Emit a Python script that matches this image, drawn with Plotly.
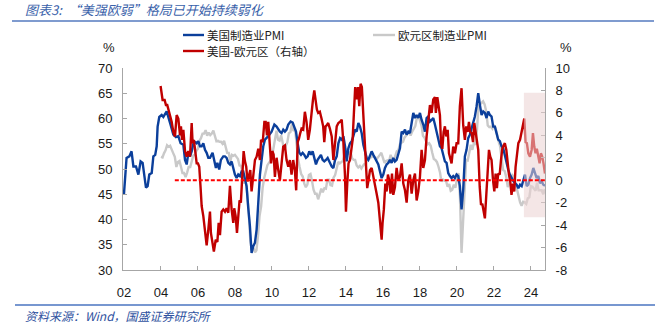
import pandas as pd
import plotly.graph_objects as go

# ---------------- data ----------------
# US manufacturing PMI: (decimal year, value)
us_pmi = [
    (2002.00, 45.0), (2002.14, 52.2), (2002.29, 52.5), (2002.41, 53.5), (2002.51, 50.5), (2002.65, 50.5),
    (2002.78, 48.9), (2002.90, 51.5), (2003.01, 51.2), (2003.08, 48.9), (2003.19, 46.3), (2003.28, 46.6),
    (2003.37, 48.9), (2003.50, 49.2), (2003.59, 52.5), (2003.69, 52.8), (2003.77, 54.5), (2003.82, 58.4),
    (2003.91, 60.3), (2004.04, 60.7), (2004.13, 60.3), (2004.31, 61.4), (2004.40, 60.4), (2004.52, 58.8),
    (2004.67, 56.8), (2004.81, 56.3), (2004.94, 56.5), (2005.06, 55.1), (2005.21, 54.8), (2005.30, 51.8),
    (2005.39, 50.9), (2005.48, 53.2), (2005.57, 52.5), (2005.66, 53.5), (2005.78, 55.5), (2005.93, 55.1),
    (2006.02, 55.5), (2006.11, 54.5), (2006.20, 54.5), (2006.29, 55.1), (2006.38, 53.8), (2006.47, 53.2),
    (2006.56, 52.2), (2006.65, 52.2), (2006.79, 53.2), (2006.88, 51.5), (2006.97, 50.2), (2007.05, 51.2),
    (2007.15, 49.9), (2007.24, 51.8), (2007.37, 52.5), (2007.46, 52.5), (2007.55, 52.2), (2007.64, 51.2),
    (2007.73, 50.9), (2007.82, 51.5), (2007.91, 50.2), (2008.00, 48.9), (2008.09, 48.2), (2008.18, 48.9),
    (2008.27, 48.6), (2008.36, 49.5), (2008.45, 49.5), (2008.54, 48.2), (2008.63, 46.6), (2008.72, 42.3),
    (2008.81, 38.7), (2008.90, 33.4), (2008.99, 34.7), (2009.08, 35.4), (2009.17, 38.0), (2009.26, 43.3),
    (2009.35, 48.9), (2009.44, 51.8), (2009.53, 54.5), (2009.62, 55.8), (2009.71, 56.1), (2009.80, 56.5),
    (2009.98, 57.4), (2010.13, 58.8), (2010.25, 58.4), (2010.34, 57.8), (2010.43, 57.4), (2010.52, 57.1),
    (2010.61, 57.8), (2010.70, 57.4), (2010.79, 57.8), (2010.88, 58.8), (2011.01, 59.4), (2011.12, 59.2),
    (2011.21, 58.4), (2011.30, 57.4), (2011.39, 55.1), (2011.48, 53.2), (2011.57, 52.8), (2011.66, 53.2),
    (2011.75, 52.8), (2011.84, 52.2), (2011.93, 52.5), (2012.02, 53.5), (2012.11, 52.8), (2012.20, 53.5),
    (2012.29, 52.2), (2012.38, 50.9), (2012.47, 51.8), (2012.56, 52.2), (2012.65, 52.8), (2012.74, 51.8),
    (2012.83, 51.5), (2012.92, 51.8), (2013.01, 52.2), (2013.10, 51.5), (2013.23, 50.5), (2013.32, 50.2),
    (2013.41, 51.8), (2013.50, 52.5), (2013.59, 55.1), (2013.68, 56.1), (2013.77, 55.8), (2013.86, 56.5),
    (2013.95, 54.5), (2014.04, 51.5), (2014.13, 54.1), (2014.22, 55.1), (2014.31, 55.5), (2014.40, 56.5),
    (2014.49, 57.8), (2014.58, 57.4), (2014.67, 59.1), (2014.76, 58.4), (2014.85, 57.1), (2014.94, 54.8),
    (2015.03, 53.2), (2015.12, 52.2), (2015.21, 51.8), (2015.30, 52.8), (2015.39, 53.5), (2015.48, 52.8),
    (2015.57, 52.2), (2015.66, 51.5), (2015.75, 50.9), (2015.84, 49.5), (2015.93, 48.2), (2016.02, 48.9),
    (2016.11, 50.2), (2016.20, 50.9), (2016.29, 51.2), (2016.38, 51.8), (2016.47, 51.2), (2016.56, 52.2),
    (2016.65, 51.5), (2016.74, 51.8), (2016.83, 52.8), (2016.92, 54.1), (2017.01, 57.4), (2017.10, 57.1),
    (2017.19, 57.8), (2017.28, 56.8), (2017.37, 57.4), (2017.46, 57.1), (2017.55, 59.1), (2017.64, 61.1),
    (2017.73, 60.1), (2017.82, 60.7), (2017.91, 60.1), (2018.00, 61.1), (2018.09, 59.7), (2018.18, 58.8),
    (2018.27, 57.4), (2018.36, 60.1), (2018.45, 60.4), (2018.54, 59.4), (2018.63, 59.7), (2018.72, 60.1),
    (2018.81, 58.8), (2018.90, 57.4), (2018.99, 56.5), (2019.08, 54.5), (2019.17, 54.1), (2019.26, 52.5),
    (2019.35, 51.5), (2019.44, 51.2), (2019.53, 49.2), (2019.62, 48.6), (2019.71, 48.2), (2019.80, 48.6),
    (2019.89, 48.2), (2019.98, 48.9), (2020.07, 48.6), (2020.16, 46.6), (2020.25, 42.0), (2020.34, 45.9),
    (2020.43, 52.5), (2020.52, 53.8), (2020.61, 56.1), (2020.70, 56.8), (2020.79, 58.1), (2020.88, 59.7),
    (2020.97, 60.4), (2021.06, 62.4), (2021.15, 65.0), (2021.24, 62.7), (2021.33, 60.7), (2021.42, 61.4),
    (2021.51, 61.1), (2021.60, 60.1), (2021.69, 61.4), (2021.78, 60.7), (2021.87, 60.4), (2021.96, 58.4),
    (2022.05, 58.4), (2022.14, 57.1), (2022.23, 55.8), (2022.32, 55.5), (2022.41, 54.5), (2022.50, 54.1),
    (2022.59, 52.5), (2022.68, 51.5), (2022.77, 49.9), (2022.86, 48.9), (2022.95, 48.2), (2023.05, 47.6),
    (2023.14, 47.2), (2023.23, 46.9), (2023.32, 46.2), (2023.41, 46.9), (2023.50, 46.6), (2023.59, 47.6),
    (2023.68, 48.9), (2023.77, 46.6), (2023.86, 46.9), (2023.95, 48.2), (2024.04, 48.9), (2024.13, 50.2),
    (2024.22, 49.2), (2024.31, 48.2), (2024.40, 48.6), (2024.49, 47.2), (2024.58, 47.6), (2024.67, 46.9),
    (2024.76, 46.7),
]

# Euro area manufacturing PMI, monthly from Jan 2004
eu_start = "2004-01-01"
eu_pmi = [
    52.4, 52.3, 53.1, 53.7, 54.7, 54.4, 54.6, 54.0, 53.1, 52.4, 50.4, 51.4,
    51.6, 50.4, 49.2, 49.2, 48.4, 49.3, 50.4, 50.4, 51.7, 52.7, 52.8, 53.6,
    54.0, 55.6, 56.1, 57.0, 57.0, 57.7, 56.6, 57.2, 56.7, 57.0, 57.6, 56.5,
    55.5, 55.6, 55.4, 55.4, 55.0, 55.6, 54.3, 53.2, 53.2, 51.5, 52.8, 52.6,
    52.8, 52.3, 52.0, 50.7, 50.6, 49.2, 47.4, 47.6, 45.0, 41.1, 35.6, 33.9,
    34.4, 33.5, 33.9, 36.8, 40.7, 42.6, 46.3, 48.2, 49.3, 50.7, 51.2, 51.6,
    52.4, 54.2, 56.6, 57.6, 55.8, 55.6, 56.7, 55.1, 53.7, 54.6, 55.3, 57.1,
    57.3, 59.0, 57.5, 58.0, 54.6, 52.0, 50.4, 49.0, 48.5, 47.1, 46.4, 46.9,
    48.8, 49.0, 47.7, 45.9, 45.1, 45.1, 44.0, 45.1, 46.1, 45.4, 46.2, 46.1,
    47.9, 47.9, 46.8, 46.7, 48.3, 48.8, 50.3, 51.4, 51.1, 51.3, 51.6, 52.7,
    54.0, 53.2, 53.0, 53.4, 52.2, 51.8, 51.8, 50.7, 50.3, 50.6, 50.1, 50.6,
    51.0, 51.0, 52.2, 52.0, 52.2, 52.5, 52.4, 52.3, 52.0, 52.3, 52.8, 53.2,
    52.3, 51.2, 51.6, 51.7, 51.5, 52.8, 52.0, 51.7, 52.6, 53.5, 53.7, 54.9,
    55.2, 55.4, 56.2, 56.7, 57.0, 57.4, 56.6, 57.4, 58.1, 58.5, 60.1, 60.6,
    59.6, 58.6, 56.6, 56.2, 55.5, 54.9, 55.1, 54.6, 53.2, 52.0, 51.8, 51.4,
    50.5, 49.3, 47.5, 47.9, 47.7, 47.6, 46.5, 47.0, 45.7, 45.9, 46.9, 46.3,
    47.9, 49.2, 44.5, 33.4, 39.4, 47.4, 51.8, 51.7, 53.7, 54.8, 53.8, 55.2,
    54.8, 57.9, 62.5, 62.9, 63.1, 63.4, 62.8, 61.4, 58.6, 58.3, 58.4, 58.0,
    58.7, 58.2, 56.5, 55.5, 54.6, 52.1, 49.8, 49.6, 48.4, 46.4, 47.1, 47.8,
    48.8, 48.5, 47.3, 45.8, 44.8, 43.4, 42.7, 43.5, 43.4, 43.1, 44.2, 44.4,
    46.6, 46.5, 46.1, 45.7, 47.3, 45.8, 45.8, 45.8, 45.0, 46.0,
]

# US minus euro area (right axis): (decimal year, value)
us_eu_spread = [
    (2003.98, 8.4), (2004.09, 7.15), (2004.20, 7.15), (2004.27, 6.7), (2004.34, 6.7), (2004.45, 6.0),
    (2004.58, 5.2), (2004.67, 4.3), (2004.76, 3.9), (2004.85, 5.8), (2004.94, 5.5), (2005.03, 4.0),
    (2005.08, 4.8), (2005.14, 3.6), (2005.21, 4.5), (2005.30, 2.6), (2005.39, 2.1), (2005.48, 2.6),
    (2005.57, 2.1), (2005.66, 5.1), (2005.71, 3.3), (2005.78, 3.6), (2005.86, 2.1), (2005.93, 1.5),
    (2006.00, 1.5), (2006.07, 1.2), (2006.14, -0.6), (2006.20, -2.3), (2006.29, -3.2), (2006.38, -4.7),
    (2006.47, -5.8), (2006.56, -4.4), (2006.65, -2.8), (2006.70, -4.7), (2006.79, -5.9), (2006.86, -6.35),
    (2006.96, -5.3), (2007.05, -5.5), (2007.12, -3.8), (2007.19, -4.9), (2007.28, -2.8), (2007.37, -2.6),
    (2007.46, -2.8), (2007.55, -2.5), (2007.64, -2.9), (2007.73, -0.5), (2007.82, -2.6), (2007.91, -3.8),
    (2007.96, -2.5), (2008.04, -3.2), (2008.11, -4.7), (2008.18, -3.5), (2008.25, -1.8), (2008.32, -2.0),
    (2008.40, 0.6), (2008.47, 2.6), (2008.54, 1.7), (2008.61, 1.2), (2008.68, -0.1), (2008.76, 0.5),
    (2008.83, 0.9), (2008.90, -1.0), (2008.99, 0.6), (2009.08, 1.8), (2009.17, 2.1), (2009.26, 2.8),
    (2009.35, 1.8), (2009.41, 3.6), (2009.50, 3.4), (2009.59, 5.2), (2009.66, 5.2), (2009.73, 4.0),
    (2009.80, 5.2), (2009.87, 3.3), (2009.95, 1.5), (2010.02, 2.6), (2010.09, 2.3), (2010.16, 0.3),
    (2010.25, 2.0), (2010.34, 0.9), (2010.43, 0.0), (2010.52, 1.5), (2010.61, 3.0), (2010.70, 3.1),
    (2010.79, 1.8), (2010.88, 1.2), (2010.97, 1.8), (2011.06, 0.5), (2011.15, 1.8), (2011.24, 0.9),
    (2011.31, -0.9), (2011.39, 3.4), (2011.46, 3.7), (2011.53, 4.2), (2011.60, 4.6), (2011.69, 4.5),
    (2011.78, 6.1), (2011.87, 5.2), (2011.96, 3.6), (2012.05, 4.5), (2012.14, 6.3), (2012.22, 7.2),
    (2012.29, 8.0), (2012.36, 6.9), (2012.43, 6.3), (2012.50, 6.0), (2012.59, 6.1), (2012.68, 5.5),
    (2012.77, 4.8), (2012.83, 3.4), (2012.90, 4.8), (2012.97, 4.9), (2013.04, 5.1), (2013.13, 4.6),
    (2013.23, 3.9), (2013.32, 1.8), (2013.41, 3.3), (2013.50, 4.8), (2013.59, 5.1), (2013.68, 5.2),
    (2013.77, 5.4), (2013.86, 3.4), (2013.95, 0.3), (2014.00, -2.8), (2014.07, -0.3), (2014.14, 1.5),
    (2014.22, 1.8), (2014.29, 3.0), (2014.36, 3.6), (2014.43, 6.0), (2014.50, 8.3), (2014.58, 7.2),
    (2014.65, 8.3), (2014.72, 6.6), (2014.79, 8.6), (2014.86, 8.3), (2014.94, 6.1), (2015.01, 3.6),
    (2015.08, 1.2), (2015.15, -0.7), (2015.22, 0.0), (2015.30, 0.9), (2015.39, 1.1), (2015.48, 0.2),
    (2015.57, -0.6), (2015.66, -1.2), (2015.75, -2.0), (2015.84, -4.1), (2015.93, -5.3), (2015.98, -3.8),
    (2016.05, -2.6), (2016.13, -0.3), (2016.20, -1.0), (2016.27, 0.5), (2016.34, 0.0), (2016.41, -1.2),
    (2016.49, 0.6), (2016.56, -1.3), (2016.65, -0.6), (2016.74, 1.1), (2016.83, 0.0), (2016.92, 0.3),
    (2017.01, 1.5), (2017.10, -0.3), (2017.19, -0.9), (2017.28, -2.0), (2017.37, 0.0), (2017.46, 0.5),
    (2017.55, -1.2), (2017.64, 0.0), (2017.73, 0.6), (2017.82, -1.8), (2017.91, -1.0), (2018.00, 0.3),
    (2018.09, 2.7), (2018.18, 1.1), (2018.27, 1.8), (2018.36, 3.9), (2018.45, 5.4), (2018.54, 6.7),
    (2018.63, 6.0), (2018.72, 7.2), (2018.81, 7.4), (2018.86, 6.0), (2018.94, 7.4), (2019.01, 6.3),
    (2019.08, 5.8), (2019.14, 3.3), (2019.21, 2.8), (2019.28, 4.3), (2019.35, 4.8), (2019.42, 3.9),
    (2019.50, 4.5), (2019.57, 2.4), (2019.64, 1.8), (2019.71, 1.5), (2019.80, 3.0), (2019.89, 2.4),
    (2019.98, 3.3), (2020.07, 3.3), (2020.16, 6.6), (2020.25, 8.2), (2020.34, 4.9), (2020.43, 3.6),
    (2020.50, 4.8), (2020.58, 4.3), (2020.65, 5.2), (2020.72, 4.3), (2020.79, 4.2), (2020.87, 3.4),
    (2020.94, 5.1), (2021.01, 4.3), (2021.08, 3.4), (2021.15, 2.7), (2021.23, -0.6), (2021.30, -2.2),
    (2021.37, -2.1), (2021.44, -2.8), (2021.51, -3.4), (2021.59, -1.2), (2021.66, 1.5), (2021.73, 2.7),
    (2021.80, 2.1), (2021.87, 1.8), (2021.95, 0.0), (2022.02, -1.0), (2022.09, 0.6), (2022.16, -0.7),
    (2022.23, 0.6), (2022.31, 0.5), (2022.38, 1.8), (2022.45, 2.8), (2022.52, 3.1), (2022.59, 3.3),
    (2022.67, 2.7), (2022.74, 1.5), (2022.81, 0.5), (2022.88, -0.1), (2022.95, -1.3), (2023.03, -0.3),
    (2023.10, -1.0), (2023.17, 1.2), (2023.24, 2.3), (2023.32, 3.3), (2023.41, 3.6), (2023.50, 4.3),
    (2023.59, 4.8), (2023.64, 5.5), (2023.71, 3.4), (2023.78, 3.3), (2023.86, 2.4), (2023.95, 2.1),
    (2024.04, 2.7), (2024.11, 4.2), (2024.18, 3.0), (2024.25, 2.4), (2024.32, 2.8), (2024.40, 2.1),
    (2024.47, 1.5), (2024.54, 2.4), (2024.61, 2.1), (2024.68, 1.5), (2024.76, 0.6),
]

zero_line_span = ("2004-10-01", "2024-10-05")      # dashed zero reference on right axis
highlight_span = ("2023-08-15", "2024-10-05")      # shaded recent period
highlight_range = (-3.3, 7.8)                      # right-axis extent of shading

left_ticks = [30, 35, 40, 45, 50, 55, 60, 65, 70]
right_ticks = [-8, -6, -4, -2, 0, 2, 4, 6, 8, 10]
right_tick_text = [str(v) for v in right_ticks]

names = ["美国制造业PMI", "欧元区制造业PMI", "美国-欧元区（右轴）"]
title_text = "图表3:  “美强欧弱”格局已开始持续弱化"
source_text = "资料来源：Wind，国盛证券研究所"


# ---------------- helpers ----------------
def to_date(y):
    yr = int(y)
    return pd.Timestamp(year=yr, month=1, day=1) + pd.Timedelta(days=(y - yr) * 365.25)


us_x = [to_date(t) for t, _ in us_pmi]
us_y = [v for _, v in us_pmi]
eu_x = pd.date_range(eu_start, periods=len(eu_pmi), freq="MS")
sp_x = [to_date(t) for t, _ in us_eu_spread]
sp_y = [v for _, v in us_eu_spread]

BLUE = "#0b3f9b"
GRAY = "#c9c9c9"
RED = "#c00000"
CJK = "Noto Sans CJK SC"
NUM = "Liberation Sans"

fig = go.Figure()
fig.add_trace(go.Scatter(x=eu_x, y=eu_pmi, mode="lines", name=names[1],
                         line=dict(color=GRAY, width=2.4), yaxis="y", showlegend=False))
fig.add_trace(go.Scatter(x=us_x, y=us_y, mode="lines", name=names[0],
                         line=dict(color=BLUE, width=2.4), yaxis="y", showlegend=False))
fig.add_trace(go.Scatter(x=sp_x, y=sp_y, mode="lines", name=names[2],
                         line=dict(color=RED, width=2.4), yaxis="y2", showlegend=False))

W, H = 661, 333
L, R, T, B = 123, 545, 68, 270          # plot-area pixel box


def px(x):
    return (x - L) / (R - L)


def py(y):
    return (B - y) / (B - T)


axis_col = "#a6a6a6"
fig.update_layout(
    width=W, height=H,
    margin=dict(l=L, r=W - R, t=T, b=H - B, pad=0),
    paper_bgcolor="white", plot_bgcolor="white",
    showlegend=False,
    xaxis=dict(
        type="date", range=["2001-12-13", "2024-10-05"],
        tick0="2002-01-01", dtick="M24", tickformat="%y",
        ticks="inside", ticklen=4, tickcolor=axis_col,
        showline=True, linecolor=axis_col, linewidth=1,
        showgrid=False, zeroline=False,
        tickfont=dict(family=NUM, size=13, color="#1a1a1a"),
        ticklabelstandoff=10,
    ),
    yaxis=dict(
        range=[30, 70], tickvals=left_ticks,
        ticks="inside", ticklen=4, tickcolor=axis_col,
        showline=True, linecolor=axis_col, linewidth=1,
        showgrid=False, zeroline=False,
        tickfont=dict(family=NUM, size=13, color="#1a1a1a"),
        ticklabelstandoff=7,
    ),
    yaxis2=dict(
        range=[-8, 10], overlaying="y", side="right",
        tickvals=right_ticks, ticktext=right_tick_text,
        ticks="inside", ticklen=4, tickcolor=axis_col,
        showline=True, linecolor=axis_col, linewidth=1,
        showgrid=False, zeroline=False,
        tickfont=dict(family=NUM, size=13, color="#1a1a1a"),
        ticklabelstandoff=7,
    ),
)

ROW1, ROW2 = 35, 51
shapes = [
    # shaded recent period (drawn above lines to fade them)
    dict(type="rect", xref="x", yref="y2", layer="above",
         x0=highlight_span[0], x1=highlight_span[1],
         y0=highlight_range[0], y1=highlight_range[1],
         fillcolor="rgba(235,209,209,0.55)", line=dict(width=0)),
    # dashed zero line on right axis
    dict(type="line", xref="x", yref="y2", layer="above",
         x0=zero_line_span[0], x1=zero_line_span[1], y0=0, y1=0,
         line=dict(color="#ff0000", width=2, dash="4px,2px")),
    # header and footer rules
    dict(type="line", xref="paper", yref="paper", x0=px(12), x1=px(654), y0=py(21), y1=py(21),
         line=dict(color="#7f9bcf", width=2)),
    dict(type="line", xref="paper", yref="paper", x0=px(15), x1=px(655), y0=py(305), y1=py(305),
         line=dict(color="#4a74c0", width=1.5)),
    # legend samples
    dict(type="line", xref="paper", yref="paper", x0=px(183), x1=px(204), y0=py(ROW1), y1=py(ROW1),
         line=dict(color=BLUE, width=2.4)),
    dict(type="line", xref="paper", yref="paper", x0=px(373), x1=px(395), y0=py(ROW1), y1=py(ROW1),
         line=dict(color=GRAY, width=2.4)),
    dict(type="line", xref="paper", yref="paper", x0=px(183), x1=px(204), y0=py(ROW2), y1=py(ROW2),
         line=dict(color=RED, width=2.4)),
]
fig.update_layout(shapes=shapes)

ann = [
    dict(text=title_text, x=px(24), y=py(10), xanchor="left", yanchor="middle",
         font=dict(family=CJK, size=13, color="#3a62aa", style="italic")),
    dict(text=source_text, x=px(24), y=py(315), xanchor="left", yanchor="middle",
         font=dict(family=CJK, size=12, color="#2f52a0", style="italic")),
    dict(text="%", x=px(109), y=py(48), xanchor="center", yanchor="middle",
         font=dict(family=NUM, size=13, color="#1a1a1a")),
    dict(text="%", x=px(566), y=py(48), xanchor="center", yanchor="middle",
         font=dict(family=NUM, size=13, color="#1a1a1a")),
    dict(text=names[0], x=px(206), y=py(ROW1), xanchor="left", yanchor="middle",
         font=dict(family=CJK, size=11.5, color="#1a1a1a")),
    dict(text=names[1], x=px(397), y=py(ROW1), xanchor="left", yanchor="middle",
         font=dict(family=CJK, size=11.5, color="#1a1a1a")),
    dict(text=names[2], x=px(206), y=py(ROW2), xanchor="left", yanchor="middle",
         font=dict(family=CJK, size=11.5, color="#1a1a1a")),
]
for a in ann:
    a.update(xref="paper", yref="paper", showarrow=False, borderpad=0)
fig.update_layout(annotations=ann)

fig.write_html("out.html")
